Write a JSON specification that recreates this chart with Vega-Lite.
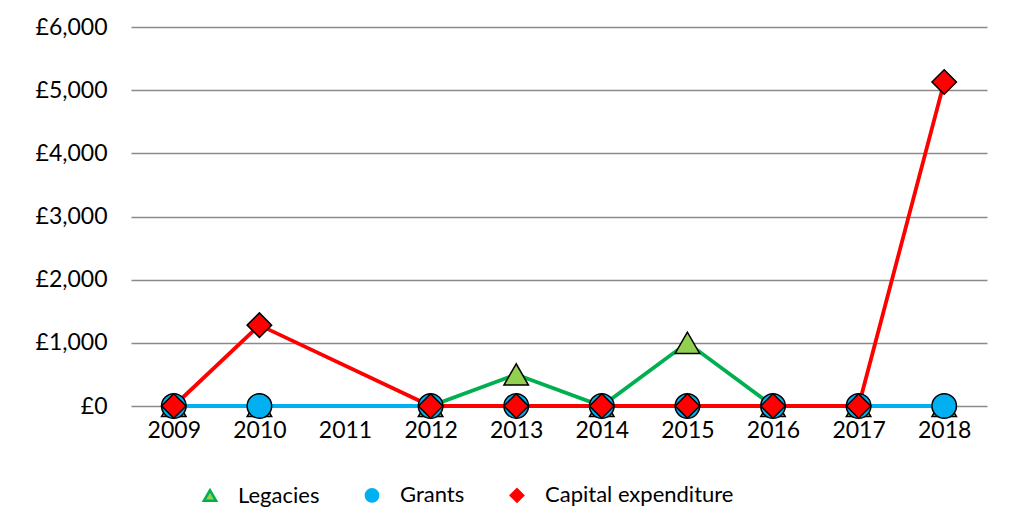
{
  "$schema": "https://vega.github.io/schema/vega-lite/v6.json",
  "width": 856,
  "height": 379,
  "autosize": {"type": "none"},
  "padding": {"left": 131, "top": 27, "right": 27, "bottom": 107},
  "background": "white",
  "config": {
    "font": "Lato",
    "view": {"stroke": null},
    "axis": {"labelColor": "black", "labelFont": "Lato", "title": null},
    "legend": {
      "labelFontSize": 22,
      "labelColor": "black",
      "labelFont": "Lato",
      "labelLimit": 400,
      "symbolSize": 150,
      "symbolStrokeWidth": 2.5,
      "labelOffset": 17,
      "columnPadding": 40
    }
  },
  "data": {
    "values": [
      {"year": "2009", "series": "Legacies", "value": 0},
      {"year": "2010", "series": "Legacies", "value": 0},
      {"year": "2012", "series": "Legacies", "value": 0},
      {"year": "2013", "series": "Legacies", "value": 500},
      {"year": "2014", "series": "Legacies", "value": 0},
      {"year": "2015", "series": "Legacies", "value": 1000},
      {"year": "2016", "series": "Legacies", "value": 0},
      {"year": "2017", "series": "Legacies", "value": 0},
      {"year": "2018", "series": "Legacies", "value": 0},
      {"year": "2009", "series": "Grants", "value": 0},
      {"year": "2010", "series": "Grants", "value": 0},
      {"year": "2012", "series": "Grants", "value": 0},
      {"year": "2013", "series": "Grants", "value": 0},
      {"year": "2014", "series": "Grants", "value": 0},
      {"year": "2015", "series": "Grants", "value": 0},
      {"year": "2016", "series": "Grants", "value": 0},
      {"year": "2017", "series": "Grants", "value": 0},
      {"year": "2018", "series": "Grants", "value": 0},
      {"year": "2009", "series": "Capital expenditure", "value": 0},
      {"year": "2010", "series": "Capital expenditure", "value": 1280},
      {"year": "2012", "series": "Capital expenditure", "value": 0},
      {"year": "2013", "series": "Capital expenditure", "value": 0},
      {"year": "2014", "series": "Capital expenditure", "value": 0},
      {"year": "2015", "series": "Capital expenditure", "value": 0},
      {"year": "2016", "series": "Capital expenditure", "value": 0},
      {"year": "2017", "series": "Capital expenditure", "value": 0},
      {"year": "2018", "series": "Capital expenditure", "value": 5130}
    ]
  },
  "encoding": {
    "x": {
      "field": "year",
      "type": "ordinal",
      "scale": {"domain": ["2009","2010","2011","2012","2013","2014","2015","2016","2017","2018"], "padding": 0.5},
      "axis": {"domain": false, "ticks": false, "grid": false, "labelAngle": 0, "labelFontSize": 23, "labelPadding": 13}
    },
    "y": {
      "field": "value",
      "type": "quantitative",
      "scale": {"domain": [0, 6000], "nice": false},
      "axis": {
        "domain": false, "ticks": false, "grid": true,
        "gridColor": "#8a8a8a", "gridWidth": 1.5,
        "values": [0, 1000, 2000, 3000, 4000, 5000, 6000],
        "labelExpr": "'£' + format(datum.value, ',')",
        "labelFontSize": 23, "labelPadding": 24
      }
    }
  },
  "layer": [
    {
      "mark": {"type": "line", "strokeWidth": 3.8},
      "encoding": {
        "stroke": {
          "field": "series", "type": "nominal",
          "scale": {"domain": ["Legacies", "Grants", "Capital expenditure"], "range": ["#00B050", "#00B0F0", "#FF0000"]},
          "legend": {
            "orient": "none", "legendX": 68, "legendY": 457, "direction": "horizontal", "title": null,
            "labelFontSize": 22, "labelLimit": 400, "symbolSize": 150, "labelOffset": 17, "columnPadding": 40,
            "encode": {
              "symbols": {
                "update": {
                  "shape": {"signal": "datum.value === 'Legacies' ? 'M-3.5,0H-0.9M0.9,0H3.5M0,-0.95L1,0.8L-1,0.8Z' : datum.value === 'Grants' ? 'M-3.5,0H-1M1,0H3.5M-1,0A1,1,0,1,1,1,0A1,1,0,1,1,-1,0Z' : 'M-3.5,0H-1.1M1.1,0H3.5M-1.1,0L0,-1.1L1.1,0L0,1.1Z'"},
                  "stroke": {"signal": "datum.value === 'Legacies' ? '#00B050' : datum.value === 'Grants' ? '#00B0F0' : '#FF0000'"},
                  "fill": {"signal": "datum.value === 'Legacies' ? '#92D050' : datum.value === 'Grants' ? '#00B0F0' : '#FF0000'"},
                  "strokeWidth": {"value": 2.5},
                  "opacity": {"value": 1}
                }
              }
            }
          }
        }
      }
    },
    {
      "mark": {"type": "point", "filled": true, "opacity": 1, "stroke": "black", "strokeWidth": 1.5, "size": 600},
      "encoding": {
        "shape": {
          "field": "series", "type": "nominal",
          "scale": {"domain": ["Legacies", "Grants", "Capital expenditure"], "range": ["triangle-up", "circle", "diamond"]},
          "legend": {
            "orient": "none", "legendX": 68, "legendY": 457, "direction": "horizontal", "title": null,
            "labelFontSize": 22, "labelLimit": 400, "symbolSize": 150, "labelOffset": 17, "columnPadding": 40,
            "encode": {
              "symbols": {
                "update": {
                  "shape": {"signal": "datum.value === 'Legacies' ? 'M-3.5,0H-0.9M0.9,0H3.5M0,-0.95L1,0.8L-1,0.8Z' : datum.value === 'Grants' ? 'M-3.5,0H-1M1,0H3.5M-1,0A1,1,0,1,1,1,0A1,1,0,1,1,-1,0Z' : 'M-3.5,0H-1.1M1.1,0H3.5M-1.1,0L0,-1.1L1.1,0L0,1.1Z'"},
                  "stroke": {"signal": "datum.value === 'Legacies' ? '#00B050' : datum.value === 'Grants' ? '#00B0F0' : '#FF0000'"},
                  "fill": {"signal": "datum.value === 'Legacies' ? '#92D050' : datum.value === 'Grants' ? '#00B0F0' : '#FF0000'"},
                  "strokeWidth": {"value": 2.5},
                  "opacity": {"value": 1}
                }
              }
            }
          }
        },
        "fill": {
          "field": "series", "type": "nominal",
          "scale": {"domain": ["Legacies", "Grants", "Capital expenditure"], "range": ["#92D050", "#00B0F0", "#FF0000"]},
          "legend": {
            "orient": "none", "legendX": 68, "legendY": 457, "direction": "horizontal", "title": null,
            "labelFontSize": 22, "labelLimit": 400, "symbolSize": 150, "labelOffset": 17, "columnPadding": 40,
            "encode": {
              "symbols": {
                "update": {
                  "shape": {"signal": "datum.value === 'Legacies' ? 'M-3.5,0H-0.9M0.9,0H3.5M0,-0.95L1,0.8L-1,0.8Z' : datum.value === 'Grants' ? 'M-3.5,0H-1M1,0H3.5M-1,0A1,1,0,1,1,1,0A1,1,0,1,1,-1,0Z' : 'M-3.5,0H-1.1M1.1,0H3.5M-1.1,0L0,-1.1L1.1,0L0,1.1Z'"},
                  "stroke": {"signal": "datum.value === 'Legacies' ? '#00B050' : datum.value === 'Grants' ? '#00B0F0' : '#FF0000'"},
                  "fill": {"signal": "datum.value === 'Legacies' ? '#92D050' : datum.value === 'Grants' ? '#00B0F0' : '#FF0000'"},
                  "strokeWidth": {"value": 2.5},
                  "opacity": {"value": 1}
                }
              }
            }
          }
        }
      }
    }
  ]
}
